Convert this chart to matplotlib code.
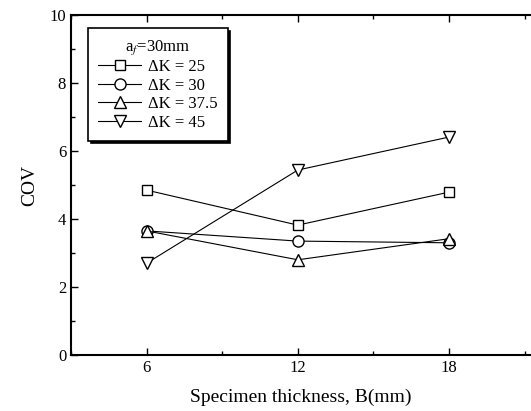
import matplotlib.pyplot as plt
from matplotlib.ticker import MultipleLocator

plt.rcParams['font.family'] = ['Liberation Serif', 'DejaVu Serif']
plt.rcParams['mathtext.fontset'] = 'stix'

# data
thickness = [6, 12, 18]
cov_25 = [4.85, 3.82, 4.79]
cov_30 = [3.65, 3.35, 3.30]
cov_375 = [3.65, 2.80, 3.42]
cov_45 = [2.70, 5.44, 6.41]
series_labels = ['ΔK = 25', 'ΔK = 30', 'ΔK = 37.5', 'ΔK = 45']
markers = ['s', 'o', '^', 'v']

fig = plt.figure(figsize=(5.31, 4.11), dpi=100)
ax = fig.add_axes([71 / 531, 1 - 355 / 411, 460 / 531, 340 / 411])

for vals, lab, m in zip([cov_25, cov_30, cov_375, cov_45], series_labels, markers):
    ax.plot(thickness, vals, color='black', linewidth=0.8, marker=m,
            markersize=8 if m != 's' else 7, markerfacecolor='white',
            markeredgecolor='black', markeredgewidth=1.0, label=lab)

ax.set_xlim(3, 3 + 460 / 25.2)
ax.set_ylim(0, 10)
ax.xaxis.set_major_locator(MultipleLocator(6))
ax.xaxis.set_minor_locator(MultipleLocator(3))
ax.yaxis.set_major_locator(MultipleLocator(2))
ax.yaxis.set_minor_locator(MultipleLocator(1))
ax.tick_params(which='both', direction='in', top=True, right=False,
               labelsize=12, width=1.0)
ax.tick_params(which='major', length=5)
ax.tick_params(which='minor', length=3)
ax.spines['right'].set_visible(False)
for s in ['left', 'bottom', 'top']:
    ax.spines[s].set_linewidth(1.5)

ax.set_xlabel('Specimen thickness, B(mm)', fontsize=14, labelpad=9)
ax.set_ylabel('COV', fontsize=14, labelpad=8)

leg = ax.legend(loc='upper left', bbox_to_anchor=(0.037, 0.962), borderaxespad=0,
                title='a$_f$=30mm', title_fontsize=12, fontsize=12,
                frameon=True, fancybox=False, shadow={'color': 'black', 'alpha': 1},
                edgecolor='black', framealpha=1, handlelength=2.6,
                labelspacing=0.15, borderpad=0.6, handletextpad=0.4)
leg.get_frame().set_linewidth(1.2)

fig.savefig('out.png', dpi=100)
